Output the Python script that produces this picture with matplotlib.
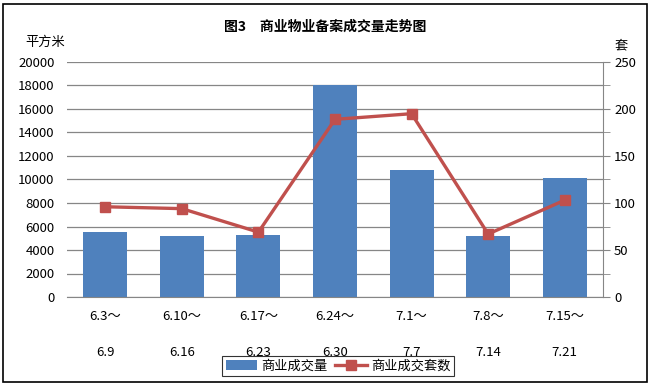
import matplotlib
matplotlib.use("Agg")
import matplotlib.pyplot as plt
import numpy as np
from matplotlib.patches import Rectangle
from matplotlib.ticker import MultipleLocator

plt.rcParams['font.family'] = ['Noto Sans CJK SC', 'DejaVu Sans']

# weekly periods
weeks_start = ['6.3～', '6.10～', '6.17～', '6.24～', '7.1～', '7.8～', '7.15～']
weeks_end = ['6.9', '6.16', '6.23', '6.30', '7.7', '7.14', '7.21']
# 商业成交量 (平方米)
area = [5550, 5200, 5250, 18000, 10770, 5150, 10150]
# 商业成交套数 (套)
units = [96, 94, 69, 189, 195, 67, 103]

bar_color = '#4F81BD'
line_color = '#C0504D'
grid_color = '#868686'

fig = plt.figure(figsize=(6.51, 3.86), dpi=100)
ax = fig.add_axes([67 / 651, 89 / 386, 536 / 651, 235 / 386])
x = np.arange(len(area))

bars = ax.bar(x, area, width=0.575, color=bar_color, zorder=2, label='商业成交量')
ax.set_xlim(-0.5, len(area) - 0.5)
ax.set_ylim(0, 20000)
ax.yaxis.set_major_locator(MultipleLocator(2000))
ax.grid(axis='y', color=grid_color, linewidth=0.9, zorder=0)
ax.set_axisbelow(True)
for s in ['top', 'right', 'left']:
    ax.spines[s].set_visible(False)
ax.spines['bottom'].set_color(grid_color)
ax.tick_params(axis='y', length=0, pad=9, labelsize=9.5)
ax.set_xticks(x)
ax.set_xticklabels([a + '\n\n' + b for a, b in zip(weeks_start, weeks_end)],
                   fontsize=9.5, linespacing=1.55)
ax.tick_params(axis='x', length=0, pad=9)

ax2 = ax.twinx()
line, = ax2.plot(x, units, color=line_color, linewidth=2.4, marker='s',
                 markersize=7, zorder=3, label='商业成交套数')
ax2.set_ylim(0, 250)
ax2.yaxis.set_major_locator(MultipleLocator(50))
ax2.yaxis.set_minor_locator(MultipleLocator(25))
for s in ['top', 'left', 'bottom']:
    ax2.spines[s].set_visible(False)
ax2.spines['right'].set_color(grid_color)
ax2.tick_params(axis='y', which='both', direction='out', length=5,
                color=grid_color, labelsize=9.5, pad=3)

fig.text(325 / 651, 1 - 27 / 386, '图3　商业物业备案成交量走势图', ha='center',
         va='center', fontsize=10, fontweight='bold')
fig.text(25 / 651, 1 - 42 / 386, '平方米', ha='left', va='center', fontsize=9.5)
fig.text(615 / 651, 1 - 46 / 386, '套', ha='left', va='center', fontsize=9.5)

leg = fig.legend(handles=[bars, line], loc='center', bbox_to_anchor=(338 / 651, 1 - 366 / 386),
                 ncol=2, frameon=True, fancybox=False, fontsize=9.5, handlelength=2.4,
                 handletextpad=0.3, columnspacing=0.6, borderpad=0.25)
leg.get_frame().set_edgecolor('black')
leg.get_frame().set_linewidth(0.8)

fig.patches.append(Rectangle((3 / 651, 4 / 386), 644 / 651, 378 / 386, transform=fig.transFigure,
                             fill=False, edgecolor='black', linewidth=1.2))

fig.savefig('out.png', dpi=100)
